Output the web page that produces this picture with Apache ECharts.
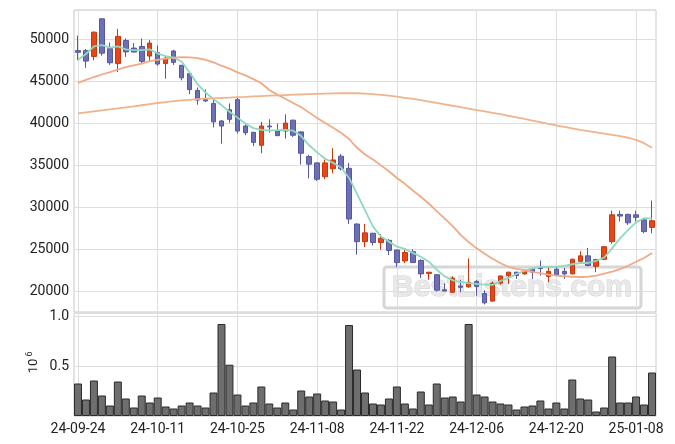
<!DOCTYPE html>
<html><head><meta charset="utf-8">
<script src="https://cdn.jsdelivr.net/npm/echarts@6/dist/echarts.min.js"></script>
<style>html,body{margin:0;padding:0;background:#fff}#c{width:675px;height:444px}</style>
</head><body><div id="c"></div>
<script>
const dates = ['24-09-24','24-09-25','24-09-26','24-09-27','24-09-30','24-10-02','24-10-04','24-10-07','24-10-08','24-10-10',
'24-10-11','24-10-14','24-10-15','24-10-16','24-10-17','24-10-18','24-10-21','24-10-22','24-10-23','24-10-24',
'24-10-25','24-10-28','24-10-29','24-10-30','24-10-31','24-11-01','24-11-04','24-11-05','24-11-06','24-11-07',
'24-11-08','24-11-11','24-11-12','24-11-13','24-11-14','24-11-15','24-11-18','24-11-19','24-11-20','24-11-21',
'24-11-22','24-11-25','24-11-26','24-11-27','24-11-28','24-11-29','24-12-02','24-12-03','24-12-04','24-12-05',
'24-12-06','24-12-09','24-12-10','24-12-11','24-12-12','24-12-13','24-12-16','24-12-17','24-12-18','24-12-19',
'24-12-20','24-12-23','24-12-24','24-12-26','24-12-27','24-12-30','25-01-02','25-01-03','25-01-06','25-01-07',
'25-01-08','25-01-09','25-01-10'];

const opens = [48700,48700,48000,52500,48930,47150,49900,49000,49200,48050,
48450,47150,48650,46950,45950,43950,42850,42400,40300,41650,
42850,39700,38950,37400,39700,39100,39100,40400,39000,36050,
35300,33650,34600,36100,34650,28000,25900,26900,25800,26050,
24900,23600,24700,23650,22100,21950,20150,19850,20600,20500,
21150,19700,18800,20950,21850,22250,22050,22600,22800,21750,
22600,22350,22050,23550,24200,22950,23800,25900,29150,29150,
29100,28500,27600];
const closes = [48500,47450,50900,48400,47250,50400,48550,48530,47420,49600,
47100,47800,47300,45450,44050,42800,42700,40200,39700,40500,
39100,38900,37750,39700,39600,38550,40050,38600,36450,35150,
33350,35300,35650,34600,28600,25900,26950,25800,26300,24850,
23400,24600,23400,22050,22250,20100,20000,21550,20450,21050,
20550,18600,20950,21800,22250,21850,22400,22250,22700,22350,
21850,22050,23800,24200,23050,23750,25300,29100,28950,28150,
28800,27100,28400];
const lows = [47550,46650,47550,48100,47000,46150,47950,48500,47150,47500,
46900,45350,47000,45150,43500,42250,42550,39550,37600,40100,
38800,38600,37300,36450,38900,38500,38200,38400,35100,33450,
33150,33350,34050,34400,28000,24350,25250,25450,24950,24300,
22850,23350,23350,21550,21350,19950,20000,19800,19850,20400,
19450,18400,18750,20750,20850,21450,21950,21450,21850,21050,
21800,21450,22000,23400,22950,22250,23700,25650,28300,27900,
28300,26900,26900];
const highs = [50500,48900,51000,52500,49650,51300,50150,49600,50150,49950,
49300,47950,48800,47000,46000,44300,44050,43000,40400,42400,
43050,39900,39000,40200,40500,40000,41100,40450,39050,36250,
35350,35700,37050,36350,35300,28100,28000,26950,26800,26200,
24950,24950,25000,23800,22250,22000,20900,21750,21350,23900,
21300,20100,21150,21850,22300,22300,22550,22650,23650,22850,
22950,22750,23850,24750,25150,23850,25350,29600,29600,29250,
29600,28550,30800];

const volumes = [325000,165000,355000,205000,105000,345000,175000,85000,205000,135000,
185000,95000,75000,105000,135000,105000,85000,235000,920000,513000,
215000,105000,135000,295000,125000,85000,135000,65000,255000,195000,
225000,155000,145000,65000,910000,465000,235000,125000,115000,175000,
295000,125000,75000,245000,115000,325000,185000,195000,145000,920000,
215000,195000,145000,125000,115000,65000,95000,105000,155000,75000,
135000,75000,365000,175000,165000,45000,85000,595000,135000,135000,
195000,115000,435000];

const maShort = [47600,48300,49200,49350,49050,49200,48850,48750,48750,48850,
48350,48050,47850,47400,46100,44700,43700,42900,42200,41400,
40700,40000,39450,39250,39150,39200,39250,39150,38500,37400,
36550,35800,35300,34750,33500,31600,29650,27700,26500,25900,
25300,25040,24560,24090,23500,22550,21750,21300,21080,20950,
20850,20780,20740,21200,21570,22040,22400,22700,22880,22880,
22880,23000,23200,23350,23350,23590,24000,25100,26300,27300,
28200,28700,28650];
const maMid = [44840,45200,45550,45850,46140,46440,46740,46950,47140,47450,
47600,47750,47860,47930,47900,47800,47600,47300,46900,46550,
46100,45750,45300,44800,44000,43450,42950,42450,41950,41300,
40650,40050,39500,38900,38150,37100,36300,35700,35000,34300,
33500,32800,32000,31250,30450,29550,28650,27750,26700,25850,
25100,24450,23850,23320,22900,22650,22500,22300,22130,21950,
21830,21770,21710,21680,21710,21830,22070,22310,22610,23020,
23500,23950,24550];
const maLong = [41200,41330,41460,41580,41700,41810,41920,42040,42180,42320,
42450,42560,42660,42750,42830,42900,42960,43010,43060,43100,
43150,43190,43240,43280,43320,43360,43400,43440,43480,43510,
43540,43570,43590,43610,43620,43610,43570,43510,43430,43320,
43200,43070,42930,42780,42620,42460,42290,42120,41950,41780,
41610,41450,41280,41110,40920,40730,40540,40350,40160,39970,
39790,39610,39420,39230,39080,38940,38800,38650,38500,38300,
38050,37650,37100];

const priceMin = 17500, priceMax = 53550, priceStep = 5000;
const volMax = 1030000, volStep = 500000;

const UP = '#e5461a', UP_B = '#c9380c', DN = '#6e70b6', DN_B = '#55579f';
const GRID = '#dedede', FRAME = '#c8c8c8', TXT = '#222';
const FONT = 'Roboto';

const chart = echarts.init(document.getElementById('c'), null, {renderer: 'canvas'});
const xCommon = {
  type: 'category', data: dates, boundaryGap: true,
  axisLine: {show: false}, axisTick: {show: false},
  splitLine: {show: true, interval: 9, alignWithLabel: true, lineStyle: {color: GRID, width: 1}}
};
chart.setOption({
  animation: false,
  backgroundColor: '#fff',
  grid: [
    {left: 74, top: 10, width: 582, height: 302, show: true, borderColor: FRAME, borderWidth: 1, backgroundColor: 'transparent'},
    {left: 74, top: 313, width: 582, height: 103, show: true, borderColor: FRAME, borderWidth: 1, backgroundColor: 'transparent'}
  ],
  xAxis: [
    Object.assign({gridIndex: 0, axisLabel: {show: false}}, xCommon),
    Object.assign({gridIndex: 1, axisLabel: {show: true, interval: 9, color: TXT, fontFamily: FONT, fontSize: 14, margin: 6}}, xCommon)
  ],
  yAxis: [
    {gridIndex: 0, type: 'value', min: priceMin, max: priceMax, minInterval: priceStep, maxInterval: priceStep,
     axisLine: {show: false}, axisTick: {show: false},
     axisLabel: {color: TXT, fontFamily: FONT, fontSize: 14, margin: 5, showMinLabel: false, showMaxLabel: false,
       formatter: v => String(Math.round(v))},
     splitLine: {lineStyle: {color: GRID}}},
    {gridIndex: 1, type: 'value', min: 0, max: volMax, minInterval: volStep, maxInterval: volStep,
     axisLine: {show: false}, axisTick: {show: false},
     axisLabel: {color: TXT, fontFamily: FONT, fontSize: 14, margin: 5, showMinLabel: false, showMaxLabel: false,
       formatter: v => (v / 1e6).toFixed(1)},
     splitLine: {lineStyle: {color: GRID}}}
  ],
  graphic: [
    {type: 'rect', z: 0, silent: true, shape: {x: 384, y: 267, width: 257, height: 41, r: 3},
     style: {fill: 'rgba(255,255,255,0)', stroke: '#d6d6d6', lineWidth: 3}},
    {type: 'text', z: 0, silent: true, x: 512, y: 288,
     style: {text: 'BestListens.com', font: 'bold 30px "Liberation Sans"', fill: '#e9e9e9', stroke: '#d0d0d0', lineWidth: 1,
       textAlign: 'center', textVerticalAlign: 'middle'}},
    {type: 'text', silent: true, x: 34, y: 366, rotation: Math.PI / 2,
     style: {text: '10', font: '13px Roboto', fill: TXT, textAlign: 'center', textVerticalAlign: 'middle'}},
    {type: 'text', silent: true, x: 29.5, y: 354, rotation: Math.PI / 2,
     style: {text: '6', font: '9px Roboto', fill: TXT, textAlign: 'center', textVerticalAlign: 'middle'}}
  ],
  series: [
    {type: 'candlestick', xAxisIndex: 0, yAxisIndex: 0, barWidth: 5, z: 3,
     data: dates.map((d, i) => [opens[i], closes[i], lows[i], highs[i]]),
     itemStyle: {color: UP, color0: DN, borderColor: UP_B, borderColor0: DN_B, borderWidth: 1}},
    {type: 'line', xAxisIndex: 0, yAxisIndex: 0, data: maShort, showSymbol: false, silent: true, z: 4,
     lineStyle: {color: '#8fd9bf', width: 1.8}},
    {type: 'line', xAxisIndex: 0, yAxisIndex: 0, data: maMid, showSymbol: false, silent: true, z: 4,
     lineStyle: {color: '#f0aa84', width: 1.8}},
    {type: 'line', xAxisIndex: 0, yAxisIndex: 0, data: maLong, showSymbol: false, silent: true, z: 4,
     lineStyle: {color: '#f0b48a', width: 1.8}},
    {type: 'bar', xAxisIndex: 1, yAxisIndex: 1, data: volumes, barCategoryGap: '0%', silent: true,
     itemStyle: {color: '#6e6e6e', borderColor: '#2a2a2a', borderWidth: 1}}
  ]
});
</script></body></html>
